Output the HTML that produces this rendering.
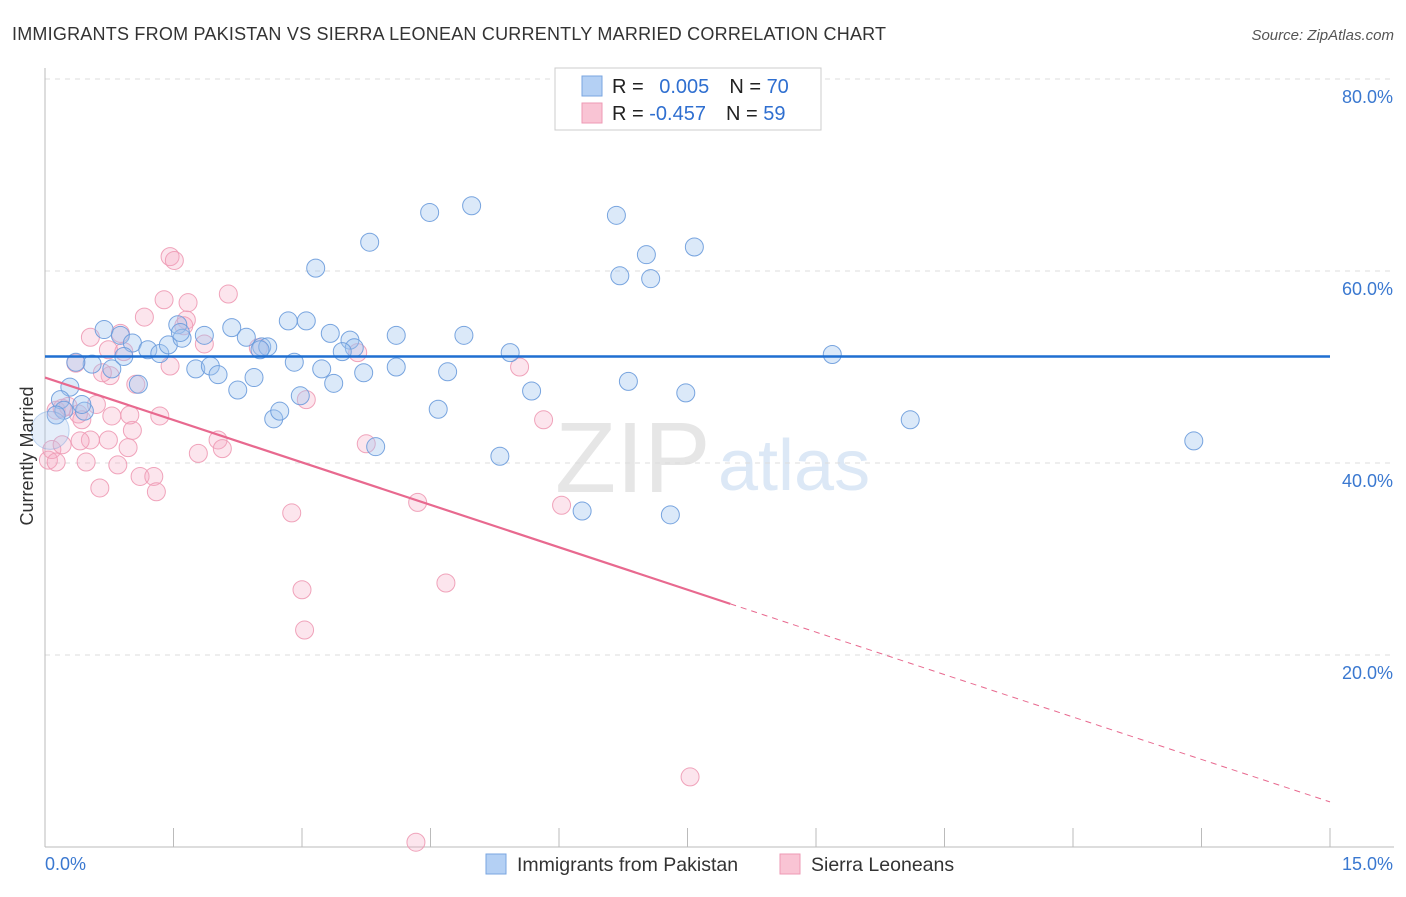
<!DOCTYPE html>
<html><head><meta charset="utf-8"><style>
body{margin:0;background:#fff;font-family:"Liberation Sans",sans-serif;}
svg text{font-family:"Liberation Sans",sans-serif;}
</style></head><body>
<svg id="chart" width="1406" height="892" xmlns="http://www.w3.org/2000/svg">
<text x="12" y="40" font-size="18" fill="#333" letter-spacing="0.22">IMMIGRANTS FROM PAKISTAN VS SIERRA LEONEAN CURRENTLY MARRIED CORRELATION CHART</text>
<text x="1394" y="40" font-size="15" fill="#555" font-style="italic" text-anchor="end">Source: ZipAtlas.com</text>
<text x="555" y="492" font-size="100" fill="#e6e6e6" font-family="Liberation Serif">ZIP</text>
<text x="718" y="490" font-size="72" fill="#dce8f6">atlas</text>
<g id="grid"></g>
<g id="axes"></g>
<g id="points"></g>
<g id="trends"></g>
<text transform="translate(33,456) rotate(-90)" font-size="18" fill="#333" text-anchor="middle">Currently Married</text>
<text x="45" y="870" font-size="18" fill="#3a78d0">0.0%</text>
<text x="1393" y="870" font-size="18" fill="#3a78d0" text-anchor="end">15.0%</text>
<g>
<rect x="555" y="68" width="266" height="62" fill="#fff" stroke="#ccc"/>
<rect x="582" y="76" width="20" height="20" fill="#b4d0f4" stroke="#7aa6e0"/>
<rect x="582" y="103" width="20" height="20" fill="#f9c4d4" stroke="#ee9ab4"/>
<text x="612" y="93" font-size="20" fill="#222">R = <tspan fill="#2f6fd0" dx="10">0.005</tspan><tspan fill="#222" dx="20">N = </tspan><tspan fill="#2f6fd0">70</tspan></text>
<text x="612" y="120" font-size="20" fill="#222">R = <tspan fill="#2f6fd0">-0.457</tspan><tspan fill="#222" dx="20">N = </tspan><tspan fill="#2f6fd0">59</tspan></text>
</g>
<g>
<rect x="486" y="854" width="20" height="20" fill="#b4d0f4" stroke="#7aa6e0"/>
<text x="517" y="871" font-size="19.5" fill="#333">Immigrants from Pakistan</text>
<rect x="780" y="854" width="20" height="20" fill="#f9c4d4" stroke="#ee9ab4"/>
<text x="811" y="871" font-size="19.5" fill="#333">Sierra Leoneans</text>
</g>
</svg>
<script>
const yTicks=[20,40,60,80];
const yTickLabels=["20.0%","40.0%","60.0%","80.0%"];
const xTickCount=10;
const blueX=[0.69,0.88,1.02,1.20,1.34,1.44,1.55,1.60,1.86,1.76,1.93,2.02,2.18,2.35,2.25,2.44,2.53,2.60,2.84,3.05,2.91,2.67,2.74,2.98,3.23,3.37,3.33,3.56,3.61,3.47,3.72,4.10,4.10,3.86,3.16,3.79,4.49,4.98,4.59,4.70,4.89,5.31,5.43,5.68,6.27,6.67,6.71,6.81,7.02,7.07,7.30,7.48,7.58,9.19,10.10,13.41,0.29,0.18,0.22,0.46,0.43,0.13,0.55,0.36,0.78,1.09,0.92,0.06,1.58,2.51];
const blueY=[53.9,53.3,52.5,51.8,51.4,52.3,54.4,53.0,53.3,49.8,50.1,49.2,54.1,53.1,47.6,48.9,52.1,52.1,54.8,54.8,50.5,44.6,45.4,47.0,49.8,48.3,53.5,52.8,52.0,51.6,49.4,53.3,50.0,41.7,60.3,63.0,66.1,66.8,45.6,49.5,53.3,40.7,51.5,47.5,35.0,65.8,59.5,48.5,61.7,59.2,34.6,47.3,62.5,51.3,44.5,42.3,47.9,46.6,45.5,45.4,46.1,45.0,50.3,50.5,49.8,48.2,51.1,43.4,53.6,51.8];
const pinkX=[0.13,0.20,0.27,0.39,0.43,0.53,0.64,0.04,0.08,0.20,0.48,0.85,0.97,0.74,0.78,1.02,1.11,1.27,1.30,1.34,1.06,0.76,0.67,0.53,0.88,0.92,1.16,1.39,1.46,1.51,1.67,1.65,1.46,1.86,1.79,2.02,2.07,2.14,2.49,2.88,3.00,3.03,3.05,3.65,3.75,4.35,4.68,4.33,5.54,5.82,6.03,7.53,0.36,0.74,0.99,0.13,0.41,0.60,1.62];
const pinkY=[45.5,45.7,45.9,45.1,44.5,42.4,37.4,40.3,41.4,41.9,40.1,39.8,41.6,42.4,44.9,43.4,38.6,38.6,37.0,44.9,48.2,49.1,49.4,53.1,53.5,51.6,55.2,57.0,61.5,61.1,56.7,54.9,50.1,52.4,41.0,42.4,41.5,57.6,52.0,34.8,26.8,22.6,46.6,51.5,42.0,35.9,27.5,0.5,50.0,44.5,35.6,7.3,50.4,51.8,45.0,40.1,42.3,46.1,54.3];
const blueTrend=[51.1,51.1];
const pinkTrend=[48.9,4.7];
const pinkSolidEnd=8.0;

const NS="http://www.w3.org/2000/svg";
const X0=45,X1=1330,Y0=847;
function sx(v){return X0+(v/15)*(X1-X0);}
function sy(v){return Y0-v*9.6;}
function mk(tag,attrs,parent){const e=document.createElementNS(NS,tag);for(const k in attrs)e.setAttribute(k,attrs[k]);parent.appendChild(e);return e;}
const grid=document.getElementById('grid'),axes=document.getElementById('axes'),pts=document.getElementById('points'),tr=document.getElementById('trends');
yTicks.forEach((t,i)=>{
  const l=mk('line',{x1:X0,x2:1394,y1:sy(t),y2:sy(t),stroke:'#dcdcdc','stroke-dasharray':'5,5'},grid);
  
  
  const tx=mk('text',{x:1393,y:sy(t)+24,'font-size':18,fill:'#3a78d0','text-anchor':'end'},grid);
  tx.textContent=yTickLabels[i];
  
  
});
const ya=mk('line',{x1:X0,x2:X0,y1:68,y2:Y0,stroke:'#bbb'},axes);


const xa=mk('line',{x1:X0,x2:1394,y1:Y0,y2:Y0,stroke:'#bbb'},axes);


for(let i=0;i<=xTickCount;i++){
  const v=15*i/xTickCount;
  const t=mk('line',{x1:sx(v),x2:sx(v),y1:828,y2:Y0,stroke:'#bbb'},axes);
  
  
}
function dots(xs,ys,fill,stroke,name){
  xs.forEach((x,i)=>{
    const big=(name==='pakistan-point'&&i===67);
    const c=mk('circle',{cx:sx(x),cy:sy(ys[i]),r:big?19:9,fill:big?'rgba(170,200,240,0.3)':fill,stroke:stroke,'stroke-width':1,'stroke-opacity':big?0.4:0.9},pts);
    
    
  });
}
dots(pinkX,pinkY,'rgba(244,168,194,0.3)','#ee9ab4','sierra-leonean-point');
dots(blueX,blueY,'rgba(160,196,240,0.38)','#6a9bdc','pakistan-point');
const bl=mk('line',{x1:sx(0),x2:sx(15),y1:sy(blueTrend[0]),y2:sy(blueTrend[1]),stroke:'#1f6fd1','stroke-width':2.5},tr);


const pAt=v=>pinkTrend[0]+(pinkTrend[1]-pinkTrend[0])*v/15;
const pl=mk('line',{x1:sx(0),x2:sx(pinkSolidEnd),y1:sy(pAt(0)),y2:sy(pAt(pinkSolidEnd)),stroke:'#e8698f','stroke-width':2.2},tr);


const pd=mk('line',{x1:sx(pinkSolidEnd),x2:sx(15),y1:sy(pAt(pinkSolidEnd)),y2:sy(pAt(15)),stroke:'#e8698f','stroke-width':1,'stroke-dasharray':'6,5'},tr);


</script>
</body></html>
